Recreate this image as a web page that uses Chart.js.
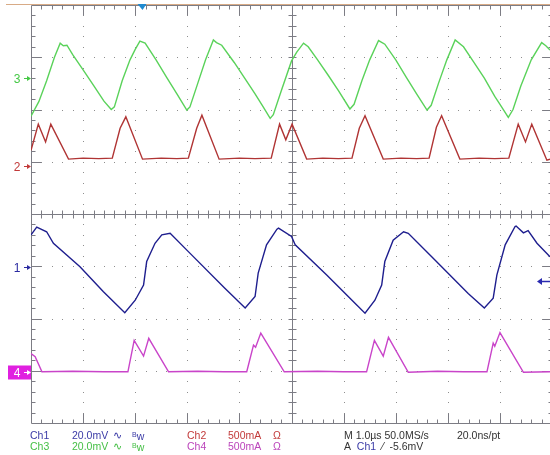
<!DOCTYPE html>
<html>
<head>
<meta charset="utf-8">
<script src="https://cdn.jsdelivr.net/npm/chart.js@4.4.1/dist/chart.umd.min.js"></script>
<style>
  body { margin: 0; background: #fff; }
  #wrap { position: relative; width: 550px; height: 455px; overflow: hidden; background: #fff; }
  #scope { position: absolute; left: 0; top: 0; }
  .ro { position: absolute; font-family: "Liberation Sans", Arial, sans-serif; font-size: 10.5px; line-height: 12px; white-space: nowrap; }
  .c1 { color: #3a3aa6; }
  .c2 { color: #c23a3a; }
  .c3 { color: #45bf45; }
  .c4 { color: #bb44bb; }
  .k { color: #333; }
  .sm { font-size: 7px; vertical-align: 3px; }
</style>
</head>
<body>
<div id="wrap">
  <canvas id="scope" width="550" height="455"></canvas>

  <!-- readout, row 1 -->
  <span class="ro c1" style="left:30px; top:429px">Ch1</span>
  <span class="ro c1" style="left:72px; top:429px">20.0mV</span>
  <span class="ro c1" style="left:113px; top:429px">∿</span>
  <span class="ro c1" style="left:132px; top:429px"><span class="sm">B</span>w</span>
  <span class="ro c2" style="left:187px; top:429px">Ch2</span>
  <span class="ro c2" style="left:228px; top:429px">500mA</span>
  <span class="ro c2" style="left:273px; top:429px">Ω</span>
  <span class="ro k" style="left:344px; top:429px">M 1.0µs 50.0MS/s</span>
  <span class="ro k" style="left:457px; top:429px">20.0ns/pt</span>

  <!-- readout, row 2 -->
  <span class="ro c3" style="left:30px; top:440px">Ch3</span>
  <span class="ro c3" style="left:72px; top:440px">20.0mV</span>
  <span class="ro c3" style="left:113px; top:440px">∿</span>
  <span class="ro c3" style="left:132px; top:440px"><span class="sm">B</span>w</span>
  <span class="ro c4" style="left:187px; top:440px">Ch4</span>
  <span class="ro c4" style="left:228px; top:440px">500mA</span>
  <span class="ro c4" style="left:273px; top:440px">Ω</span>
  <span class="ro k" style="left:344px; top:440px">A&nbsp; <span class="c1">Ch1</span> &nbsp;⁄&nbsp; -5.6mV</span>
</div>

<script>
// time in divisions (1 div = 1.0us), amplitude in divisions from screen centre

// Ch3 (green)
const ch3T = [0, 0.15, 0.30, 0.45, 0.56, 0.62, 0.69, 0.80, 1.00, 1.20, 1.40, 1.54, 1.60, 1.75, 1.90, 2.00, 2.09, 2.19,
  2.40, 2.60, 2.80, 2.99, 3.05, 3.20, 3.35, 3.50, 3.56, 3.66, 3.90, 4.10, 4.30, 4.45, 4.59, 4.65, 4.80, 5.00,
  5.10, 5.23, 5.32, 5.50, 5.70, 5.90, 6.12, 6.20, 6.35, 6.50, 6.67, 6.79, 7.00, 7.20, 7.40, 7.60, 7.68, 7.82,
  7.98, 8.14, 8.30, 8.50, 8.70, 8.90, 9.00, 9.16, 9.25, 9.40, 9.60, 9.80, 9.88, 9.96];
const ch3V = [1.87, 2.15, 2.55, 3.00, 3.27, 3.22, 3.23, 3.05, 2.76, 2.46, 2.16, 2.00, 2.05, 2.55, 2.95, 3.15, 3.31, 3.27,
  2.95, 2.62, 2.30, 1.99, 2.05, 2.50, 2.95, 3.33, 3.28, 3.23, 2.90, 2.60, 2.30, 2.06, 1.83, 1.90, 2.35, 2.93,
  3.10, 3.27, 3.20, 2.95, 2.66, 2.36, 2.01, 2.10, 2.55, 2.95, 3.32, 3.25, 2.95, 2.62, 2.30, 1.99, 2.08, 2.50,
  2.95, 3.33, 3.20, 2.90, 2.60, 2.25, 2.10, 1.85, 2.00, 2.45, 2.95, 3.28, 3.22, 3.14];

// Ch2 (red)
const ch2T = [0, 0.14, 0.28, 0.38, 0.72, 1.00, 1.30, 1.56, 1.71, 1.82, 2.14, 2.50, 2.80, 3.02, 3.18, 3.28, 3.61, 4.00,
  4.30, 4.61, 4.77, 4.89, 5.01, 5.29, 5.60, 5.90, 6.16, 6.30, 6.41, 6.76, 7.10, 7.40, 7.64, 7.78, 7.88, 8.23,
  8.60, 8.90, 9.17, 9.35, 9.49, 9.61, 9.90, 9.96];
const ch2V = [1.22, 1.72, 1.38, 1.72, 1.05, 1.07, 1.06, 1.07, 1.64, 1.86, 1.05, 1.07, 1.06, 1.07, 1.64, 1.89, 1.05, 1.07,
  1.06, 1.07, 1.72, 1.42, 1.72, 1.05, 1.07, 1.06, 1.07, 1.64, 1.88, 1.05, 1.07, 1.06, 1.07, 1.66, 1.88, 1.05,
  1.07, 1.06, 1.07, 1.72, 1.38, 1.72, 1.03, 1.05];

// Ch1 (blue)
const ch1T = [0, 0.11, 0.30, 0.43, 0.94, 1.39, 1.80, 2.00, 2.16, 2.22, 2.38, 2.51, 2.67, 3.02, 3.72, 4.11, 4.30, 4.36,
  4.52, 4.72, 4.75, 5.00, 5.07, 5.68, 6.16, 6.41, 6.60, 6.73, 6.79, 6.95, 7.15, 7.24, 7.69, 8.39, 8.70, 8.87,
  8.94, 9.10, 9.29, 9.31, 9.45, 9.54, 9.71, 9.96];
const ch1V = [-0.40, -0.25, -0.34, -0.56, -1.01, -1.49, -1.89, -1.65, -1.36, -0.91, -0.56, -0.40, -0.37, -0.72, -1.42,
  -1.80, -1.58, -1.13, -0.59, -0.29, -0.27, -0.43, -0.59, -1.17, -1.65, -1.90, -1.65, -1.36, -0.91, -0.50, -0.34,
  -0.37, -0.82, -1.52, -1.80, -1.61, -1.17, -0.59, -0.24, -0.23, -0.36, -0.32, -0.56, -0.82];

// Ch4 (magenta)
const ch4T = [0, 0.08, 0.21, 0.80, 1.40, 1.86, 1.98, 2.16, 2.26, 2.64, 3.20, 3.70, 4.14, 4.27, 4.31, 4.41, 4.86, 5.50,
  6.00, 6.44, 6.59, 6.76, 6.86, 7.24, 7.80, 8.30, 8.75, 8.87, 8.90, 9.00, 9.45, 9.96];
const ch4V = [-2.67, -2.73, -3.02, -3.01, -3.02, -3.02, -2.42, -2.72, -2.38, -3.02, -3.01, -3.02, -3.02, -2.51, -2.55,
  -2.28, -3.02, -3.01, -3.02, -3.02, -2.42, -2.72, -2.36, -3.03, -3.01, -3.02, -3.02, -2.47, -2.53, -2.27,
  -3.03, -3.02];

// channel ground markers (order ch3, ch2, ch1, ch4)
const refLabels = ["3", "2", "1", "4"];
const refLevels = [2.60, 0.92, -1.01, -3.02];
const refColors = ["#45c845", "#c23a3a", "#2a2aa0", "#e020e0"];

const trigTime = 2.14;   // trigger position (div)
const trigLevel = -1.28; // trigger level on ch1 (div)

function toPoints(ts, vs) {
    return ts.map((t, i) => ({ x: t, y: vs[i] }));
}

// Draw the graticule like the scope screen
const graticule = {
    id: "graticule",
    beforeDatasetsDraw(chart) {
        const { ctx, scales: { x, y } } = chart;
        const px = v => Math.round(x.getPixelForValue(v)) + 0.5;
        const py = v => Math.round(y.getPixelForValue(v)) + 0.5;
        ctx.save();

        // dotted division lines
        ctx.fillStyle = "#8e8e8e";
        for (let i = 1; i < 10; i++) {
            if (i === 5) continue;
            for (let j = 1; j < 40; j++) {
                ctx.fillRect(Math.round(x.getPixelForValue(i)), Math.round(y.getPixelForValue(-4 + j * 0.2)), 1, 1);
            }
        }
        for (let k = -3; k <= 3; k++) {
            if (k === 0) continue;
            for (let j = 1; j < 50; j++) {
                ctx.fillRect(Math.round(x.getPixelForValue(j * 0.2)), Math.round(y.getPixelForValue(k)), 1, 1);
            }
        }

        ctx.strokeStyle = "#7c7c84";
        ctx.lineWidth = 1;
        ctx.beginPath();
        // frame
        ctx.moveTo(px(0), py(4)); ctx.lineTo(px(10), py(4));
        ctx.moveTo(px(0), py(-4)); ctx.lineTo(px(10), py(-4));
        ctx.moveTo(px(0), py(4)); ctx.lineTo(px(0), py(-4));
        ctx.moveTo(px(10), py(4)); ctx.lineTo(px(10), py(-4));
        // centre cross
        ctx.moveTo(px(0), py(0)); ctx.lineTo(px(10), py(0));
        ctx.moveTo(px(5), py(4)); ctx.lineTo(px(5), py(-4));

        // ticks along horizontal lines
        for (let j = 1; j < 50; j++) {
            const t = j * 0.2;
            const X = px(t);
            const major = j % 5 === 0;
            const len = major ? 10 : 4;
            ctx.moveTo(X, py(4)); ctx.lineTo(X, py(4) + len);
            ctx.moveTo(X, py(-4)); ctx.lineTo(X, py(-4) - len);
            ctx.moveTo(X, py(0) - 4); ctx.lineTo(X, py(0) + 4);
        }
        // ticks along vertical lines
        for (let j = 1; j < 40; j++) {
            const v = -4 + j * 0.2;
            const Y = py(v);
            const major = j % 5 === 0;
            const len = major ? 10 : 4;
            ctx.moveTo(px(0), Y); ctx.lineTo(px(0) + len, Y);
            ctx.moveTo(px(10), Y); ctx.lineTo(px(10) - len, Y);
            ctx.moveTo(px(5) - 4, Y); ctx.lineTo(px(5) + 4, Y);
        }
        ctx.stroke();

        // record bar along the top
        ctx.strokeStyle = "#d8ab86";
        ctx.beginPath();
        ctx.moveTo(6, 4.5); ctx.lineTo(550, 4.5);
        ctx.stroke();
        ctx.restore();
    },
    afterDatasetsDraw(chart) {
        const { ctx, scales: { x, y } } = chart;
        ctx.save();
        ctx.font = "12px 'Liberation Sans', Arial, sans-serif";
        ctx.textBaseline = "middle";
        ctx.textAlign = "center";

        refLabels.forEach((lab, i) => {
            const Y = Math.round(y.getPixelForValue(refLevels[i])) + 0.5;
            const col = refColors[i];
            let fg = col;
            if (lab === "4") {
                ctx.fillStyle = col;
                ctx.fillRect(8, Y - 7, 23, 14);
                fg = "#fff";
            }
            ctx.fillStyle = fg;
            ctx.fillText(lab, 17, Y + 1);
            ctx.strokeStyle = fg;
            ctx.lineWidth = 1;
            ctx.beginPath();
            ctx.moveTo(24, Y); ctx.lineTo(29, Y);
            ctx.stroke();
            ctx.beginPath();
            ctx.moveTo(31, Y); ctx.lineTo(27, Y - 2.5); ctx.lineTo(27, Y + 2.5); ctx.closePath();
            ctx.fill();
        });

        // trigger position marker
        const TX = x.getPixelForValue(trigTime);
        ctx.fillStyle = "#1f8ad0";
        ctx.beginPath();
        ctx.moveTo(TX - 5, 4); ctx.lineTo(TX + 4, 4); ctx.lineTo(TX, 10); ctx.closePath();
        ctx.fill();

        // trigger level arrow
        const TY = Math.round(y.getPixelForValue(trigLevel)) + 0.5;
        ctx.strokeStyle = "#2a2ab0";
        ctx.fillStyle = "#2a2ab0";
        ctx.lineWidth = 1.5;
        ctx.beginPath();
        ctx.moveTo(541, TY); ctx.lineTo(550, TY);
        ctx.stroke();
        ctx.beginPath();
        ctx.moveTo(537, TY); ctx.lineTo(542, TY - 3.5); ctx.lineTo(542, TY + 3.5); ctx.closePath();
        ctx.fill();
        ctx.restore();
    }
};

const traceStyle = { pointRadius: 0, borderWidth: 1.4, tension: 0, fill: false };

new Chart(document.getElementById("scope").getContext("2d"), {
    type: "line",
    data: {
        datasets: [
            { label: "Ch3", data: toPoints(ch3T, ch3V), borderColor: "#5ad25a", ...traceStyle },
            { label: "Ch2", data: toPoints(ch2T, ch2V), borderColor: "#b03434", ...traceStyle },
            { label: "Ch1", data: toPoints(ch1T, ch1V), borderColor: "#1e1e8e", ...traceStyle },
            { label: "Ch4", data: toPoints(ch4T, ch4V), borderColor: "#c944c9", ...traceStyle }
        ]
    },
    options: {
        responsive: false,
        animation: false,
        devicePixelRatio: 1,
        layout: { padding: { left: 31, right: 0, top: 5, bottom: 32 } },
        scales: {
            x: { type: "linear", min: 0, max: 9.96, display: false },
            y: { type: "linear", min: -4, max: 4, display: false }
        },
        plugins: {
            legend: { display: false },
            tooltip: { enabled: false }
        }
    },
    plugins: [graticule]
});
</script>
</body>
</html>
